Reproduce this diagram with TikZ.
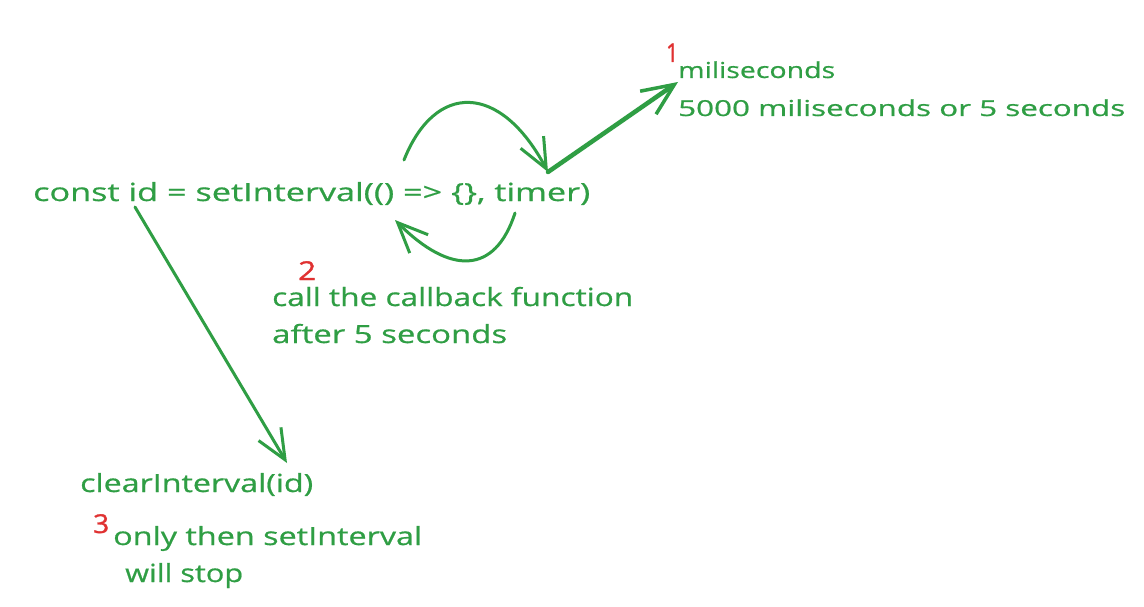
\documentclass[tikz,border=0pt]{standalone}
\usepackage{fontspec}
\setmainfont{Open Sans}
\newfontfamily\txtfont[FakeBold=0.6]{Open Sans}
\newfontfamily\numfont[FakeBold=1.2]{Open Sans}
\usetikzlibrary{arrows.meta}
\definecolor{exgreen}{HTML}{2F9E44}
\definecolor{exred}{HTML}{E03131}
\newcommand{\fitw}[2]{\resizebox{#1}{\height}{#2}}
\begin{document}
\begin{tikzpicture}[x=1pt,y=-1pt,
  txt/.style={inner sep=0pt, anchor=base west, text=exgreen, font=\txtfont\fontsize{25}{30}\selectfont},
  small/.style={txt, font=\txtfont\fontsize{22}{26}\selectfont},
  num/.style={inner sep=0pt, anchor=base west, text=exred, font=\numfont\fontsize{26}{30}\selectfont},
  conn/.style={draw=exgreen, line width=3pt, line cap=round, line join=round,
    -{Straight Barb[length=30pt, width=26pt, line width=3pt]}},
  thick conn/.style={conn, line width=4.5pt, -{Straight Barb[length=32pt, width=28pt, line width=3.5pt]}}
]
\useasboundingbox[fill=white] (0,0) rectangle (1144,607);

% texts
\node[txt] (code) at (33,201) {\fitw{557pt}{const id = setInterval(() => \{\}, timer)}};
\node[num] (n1) at (666,62) {\fitw{12pt}{1}};
\node[small] (ms) at (678,78) {\fitw{157pt}{miliseconds}};
\node[small] (ms2) at (678,116) {\fitw{447pt}{5000 miliseconds or 5 seconds}};
\node[num] (n2) at (298,280) {\fitw{18pt}{2}};
\node[txt] (cb1) at (272,306) {\fitw{361pt}{call the callback function}};
\node[txt] (cb2) at (272,343) {\fitw{235pt}{after 5 seconds}};
\node[txt] (clr) at (80,492) {\fitw{233pt}{clearInterval(id)}};
\node[num] (n3) at (93,533) {\fitw{16pt}{3}};
\node[txt] (st1) at (113,545) {\fitw{309pt}{only then setInterval}};
\node[txt] (st2) at (125,582) {\fitw{118pt}{will stop}};

% connector ends
\coordinate (idfoot) at (135,207);
\coordinate (clrtop) at (287,463);
\coordinate (loopA) at (404,160);
\coordinate (timertop) at (548,172);
\coordinate (mstip) at (678,82);
\coordinate (loopB) at (515,213);
\coordinate (cbback) at (395,220);

% connectors
\draw[thick conn] (timertop) -- (mstip);
\draw[conn] (loopA) .. controls (435,82) and (500,82) .. (timertop);
\draw[conn] (loopB) .. controls (495,275) and (450,275) .. (cbback);
\draw[conn] (idfoot) -- (clrtop);
\end{tikzpicture}
\end{document}
